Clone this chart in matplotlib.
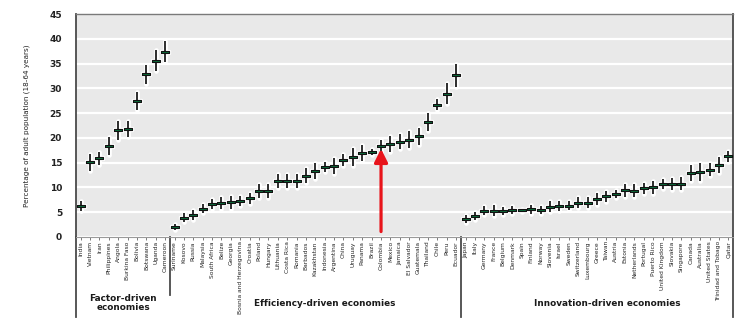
import matplotlib
matplotlib.use("Agg")
import matplotlib.pyplot as plt
import numpy as np

factor = ["India", "Vietnam", "Iran", "Philippines", "Angola", "Burkina Faso",
          "Bolivia", "Botswana", "Uganda", "Cameroon"]
factor_val = [6.3, 15.1, 15.9, 18.3, 21.5, 21.8, 27.4, 32.8, 35.6, 37.4]
factor_err = [1.0, 1.7, 1.35, 1.8, 1.9, 1.55, 1.8, 1.9, 2.2, 2.1]

efficiency = ["Suriname", "Kosovo", "Russia", "Malaysia", "South Africa", "Belize",
              "Georgia", "Bosnia and Herzegovina", "Croatia", "Poland", "Hungary",
              "Lithuania", "Costa Rica", "Romania", "Barbados", "Kazakhstan",
              "Indonesia", "Argentina", "China", "Uruguay", "Panama", "Brazil",
              "Colombia", "Mexico", "Jamaica", "El Salvador", "Guatemala",
              "Thailand", "Chile", "Peru", "Ecuador"]
efficiency_val = [2.0, 3.9, 4.45, 5.75, 6.75, 6.9, 7.0, 7.3, 7.8, 9.2, 9.3,
                  11.3, 11.3, 11.3, 12.4, 13.4, 14.1, 14.3, 15.5, 16.1, 16.9,
                  17.2, 18.3, 18.85, 19.2, 19.6, 20.3, 23.2, 26.7, 28.9, 32.6]
efficiency_err = [0.6, 0.9, 1.0, 1.0, 1.0, 1.2, 1.25, 1.0, 1.1, 1.4, 1.45,
                  1.5, 1.5, 1.5, 1.5, 1.6, 1.0, 1.6, 1.15, 1.85, 1.65,
                  0.6, 1.2, 1.6, 1.5, 1.7, 1.7, 1.9, 1.1, 2.1, 2.3]

innovation = ["Japan", "Italy", "Germany", "France", "Belgium", "Denmark", "Spain",
              "Finland", "Norway", "Slovenia", "Israel", "Sweden", "Switzerland",
              "Luxembourg", "Greece", "Taiwan", "Austria", "Estonia", "Netherlands",
              "Portugal", "Puerto Rico", "United Kingdom", "Slovakia", "Singapore",
              "Canada", "Australia", "United States", "Trinidad and Tobago", "Qatar"]
innovation_val = [3.65, 4.3, 5.3, 5.3, 5.3, 5.4, 5.4, 5.6, 5.5, 6.1, 6.3, 6.35,
                  6.9, 6.9, 7.7, 8.25, 8.6, 9.4, 9.35, 9.85, 10.0, 10.7, 10.7,
                  10.75, 12.9, 13.05, 13.6, 14.6, 16.3]
innovation_err = [0.85, 0.8, 0.9, 1.1, 0.85, 0.85, 0.3, 0.95, 0.85, 1.1, 1.0, 1.0,
                  1.1, 1.1, 1.2, 1.1, 0.8, 1.25, 1.25, 1.1, 1.25, 0.95, 1.3,
                  1.35, 1.55, 1.8, 1.35, 1.6, 1.1]

group_labels = ["Factor-driven\neconomies", "Efficiency-driven economies",
                "Innovation-driven economies"]
highlight = "Colombia"

countries = factor + efficiency + innovation
vals = np.array(factor_val + efficiency_val + innovation_val)
errs = np.array(factor_err + efficiency_err + innovation_err)
x = np.arange(len(countries))

W, H = 750, 330
fig = plt.figure(figsize=(7.5, 3.3), dpi=100)
ax_l, ax_r, ax_t, ax_b = 76, 733, 14, 237
ax = fig.add_axes([ax_l / W, 1 - ax_b / H, (ax_r - ax_l) / W, (ax_b - ax_t) / H])
ax.set_facecolor("#e9e9e9")
ax.set_xlim(-0.5, len(countries) - 0.5)
ax.set_ylim(0, 45)
ax.set_yticks(np.arange(0, 46, 5))
ax.yaxis.grid(True, color="white", lw=1.6)
ax.set_axisbelow(True)

rect = [(-1, -0.4), (1, -0.4), (1, 0.4), (-1, 0.4), (-1, -0.4)]
green = "#0b6b3a"
# halo
ax.vlines(x, vals - errs, vals + errs, color="white", lw=3.4, zorder=2,
          capstyle="round")
ax.plot(x, vals, ls="none", marker=rect, ms=5.2, mfc="white", mec="white",
        mew=2.4, zorder=2)
# bars and markers
ax.vlines(x, vals - errs, vals + errs, color="#1c1c1c", lw=1.3, zorder=3)
ax.plot(x, vals, ls="none", marker=rect, ms=5.2, mfc=green, mec="#111111",
        mew=0.8, zorder=4)

# red arrow
xi = countries.index(highlight)
ax.annotate("", xy=(xi, vals[xi] - 0.5), xytext=(xi, 1.1),
            arrowprops=dict(arrowstyle="-|>,head_length=0.8,head_width=0.4",
                            color="#e8141b", lw=2.3, shrinkA=0, shrinkB=0),
            zorder=6)

ax.set_xticks(x)
ax.set_xticklabels(countries, rotation=90, fontsize=4.3,
                   family=["Liberation Sans Narrow", "DejaVu Sans"], color="#222222")
ax.tick_params(axis="x", length=2, pad=1, color="#666666", width=0.6)
ax.tick_params(axis="y", length=0, pad=10, labelsize=6.5, labelcolor="#222222")
for lbl in ax.get_yticklabels():
    lbl.set_fontweight("bold")

for s in ["left", "right"]:
    ax.spines[s].set_color("#4a4a4a")
    ax.spines[s].set_linewidth(1.3)
ax.spines["top"].set_color("#7a7a7a")
ax.spines["top"].set_linewidth(1.0)
ax.spines["bottom"].set_color("#9a9a9a")
ax.spines["bottom"].set_linewidth(0.8)

ax.set_ylabel("Percentage of adult population (18-64 years)", fontsize=5.2,
              family=["Liberation Sans Narrow", "DejaVu Sans"], color="#222222",
              labelpad=14)

# vertical separators extended below the axes
def yax(px):
    return (ax_b - px) / (ax_b - ax_t)

trans = ax.get_xaxis_transform()
n1 = len(factor)
n2 = len(factor) + len(efficiency)
ax.plot([n1 - 0.5, n1 - 0.5], [0, yax(295)], transform=trans, color="#4a4a4a",
        lw=1.3, clip_on=False)
ax.plot([n2 - 0.5, n2 - 0.5], [0, yax(317)], transform=trans, color="#4a4a4a",
        lw=1.3, clip_on=False)
ax.plot([-0.5, -0.5], [0, yax(317)], transform=trans, color="#4a4a4a",
        lw=1.3, clip_on=False)
ax.plot([len(countries) - 0.5] * 2, [0, yax(317)], transform=trans,
        color="#4a4a4a", lw=1.3, clip_on=False)

gkw = dict(fontsize=6.4, fontweight="bold", color="#1a1a1a", ha="center",
           va="center", linespacing=1.1)
fig.text(123 / W, 1 - 303 / H, group_labels[0], **gkw)
fig.text(325 / W, 1 - 303 / H, group_labels[1], **gkw)
fig.text(607 / W, 1 - 303 / H, group_labels[2], **gkw)

fig.savefig("out.png", dpi=100)
